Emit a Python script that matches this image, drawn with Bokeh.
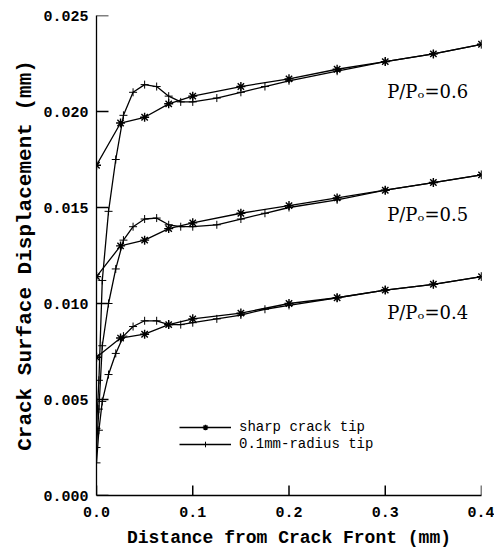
from bokeh.plotting import figure
from bokeh.models import (Range1d, FixedTicker, PrintfTickFormatter, Legend,
                          LegendItem, Label)
from bokeh.embed import file_html
from bokeh.resources import INLINE

# ---- data ----
x_sharp = [0.0, 0.025, 0.05, 0.075, 0.1, 0.15, 0.2, 0.25, 0.3, 0.35, 0.4]
sharp_06 = [0.0172, 0.0194, 0.0197, 0.0204, 0.0208, 0.0213, 0.0217, 0.0222, 0.0226, 0.0230, 0.0235]
sharp_05 = [0.0114, 0.0130, 0.0133, 0.0139, 0.0142, 0.0147, 0.0151, 0.0155, 0.0159, 0.0163, 0.0167]
sharp_04 = [0.0072, 0.0082, 0.0084, 0.0089, 0.0092, 0.0095, 0.0100, 0.0103, 0.0107, 0.0110, 0.0114]

x_radius = [0.0, 0.0025, 0.006, 0.0125, 0.02, 0.028, 0.038, 0.05, 0.0625, 0.075,
            0.0875, 0.1, 0.125, 0.15, 0.175, 0.2, 0.25, 0.3, 0.35, 0.4]
radius_06 = [0.0035, 0.0060, 0.0112, 0.0148, 0.0175, 0.0198, 0.0210, 0.0214, 0.0213, 0.0208,
             0.0205, 0.0205, 0.0207, 0.0210, 0.0213, 0.0216, 0.0221, 0.0226, 0.0230, 0.0235]
radius_05 = [0.0025, 0.0045, 0.0078, 0.0100, 0.0118, 0.0133, 0.0140, 0.0144, 0.01445, 0.0141,
             0.0140, 0.0140, 0.0141, 0.0144, 0.0147, 0.0150, 0.0154, 0.0159, 0.0163, 0.0167]
radius_04 = [0.0017, 0.0034, 0.0049, 0.0063, 0.0074, 0.0083, 0.0088, 0.0091, 0.0091, 0.0089,
             0.0089, 0.0090, 0.0092, 0.0094, 0.0097, 0.0099, 0.0103, 0.0107, 0.0110, 0.0114]

x_ticks = [0.0, 0.1, 0.2, 0.3, 0.4]
y_ticks = [0.0, 0.005, 0.010, 0.015, 0.020, 0.025]

load_labels = ["P/P\u2092=0.6", "P/P\u2092=0.5", "P/P\u2092=0.4"]
label_x = [0.302, 0.302, 0.302]
label_y = [0.02105, 0.01466, 0.00951]

legend_names = ["sharp crack tip", "0.1mm-radius tip"]

# ---- layout ----
W, H = 494, 551
BL, BR, BT, BB = 96, 13, 15, 56
FW, FH = W - BL - BR, H - BT - BB   # frame size in px

p = figure(width=W, height=H, output_backend="svg", toolbar_location=None,
           x_range=Range1d(0, 0.4), y_range=Range1d(0, 0.025),
           min_border_left=BL, min_border_right=BR, min_border_top=BT,
           min_border_bottom=BB)
p.outline_line_color = None
p.xgrid.visible = False
p.ygrid.visible = False
p.background_fill_color = "white"
p.border_fill_color = "white"

mono = "Liberation Mono"
for ax in (p.xaxis[0], p.yaxis[0]):
    ax.axis_line_color = "black"
    ax.axis_line_width = 1.3
    ax.major_tick_line_color = None
    ax.major_tick_out = 0
    ax.major_tick_in = 0
    ax.minor_tick_line_color = None
    ax.major_label_text_font = mono
    ax.major_label_text_font_style = "bold"
    ax.major_label_text_font_size = "15px"
    ax.major_label_text_color = "black"
    ax.axis_label_text_font = mono
    ax.axis_label_text_font_style = "bold"
    ax.axis_label_text_color = "black"

p.xaxis[0].ticker = FixedTicker(ticks=x_ticks)
p.xaxis[0].formatter = PrintfTickFormatter(format="%.1f")
p.xaxis[0].major_label_standoff = 11
p.xaxis[0].axis_label = "Distance from Crack Front (mm)"
p.xaxis[0].axis_label_text_font_size = "18px"
p.xaxis[0].axis_label_standoff = 8

p.yaxis[0].ticker = FixedTicker(ticks=y_ticks)
p.yaxis[0].formatter = PrintfTickFormatter(format="%.3f")
p.yaxis[0].major_label_standoff = 8
p.yaxis[0].axis_label = "Crack Surface Displacement (mm)"
p.yaxis[0].axis_label_text_font_size = "21px"
p.yaxis[0].axis_label_standoff = 3

# inward tick marks at the tick values (12 px on y, 10 px on x)
xr0, xr1 = p.x_range.start, p.x_range.end
yr0, yr1 = p.y_range.start, p.y_range.end
ytick_len = 12 * (xr1 - xr0) / FW
xtick_len = 10 * (yr1 - yr0) / FH
p.segment(x0=[xr0] * len(y_ticks), y0=y_ticks,
          x1=[xr0 + ytick_len] * len(y_ticks), y1=y_ticks,
          line_color="black", line_width=1.5)
p.segment(x0=x_ticks, y0=[yr0] * len(x_ticks),
          x1=x_ticks, y1=[yr0 + xtick_len] * len(x_ticks),
          line_color="black", line_width=1.5)

# ---- series ----
sharp_items = []
radius_items = []
for ys in (sharp_06, sharp_05, sharp_04):
    l = p.line(x_sharp, ys, line_color="black", line_width=1.3)
    s = p.scatter(x_sharp, ys, marker="asterisk", size=9, line_color="black", line_width=1.4)
    sharp_items.append((l, s))
for ys in (radius_06, radius_05, radius_04):
    l = p.line(x_radius, ys, line_color="black", line_width=1.3)
    s = p.scatter(x_radius, ys, marker="cross", size=8, line_color="black", line_width=1.0)
    radius_items.append((l, s))

legend = Legend(items=[
    LegendItem(label=legend_names[0], renderers=list(sharp_items[0])),
    LegendItem(label=legend_names[1], renderers=list(radius_items[0])),
], location=(83, 43))
legend.border_line_color = None
legend.background_fill_alpha = 0
legend.padding = 0
legend.margin = 0
legend.spacing = 1
legend.glyph_width = 52
legend.glyph_height = 14
legend.label_height = 14
legend.label_standoff = 8
legend.label_text_font = mono
legend.label_text_font_size = "14px"
legend.label_text_color = "black"
p.add_layout(legend, "center")

for t, lx, ly in zip(load_labels, label_x, label_y):
    p.add_layout(Label(x=lx, y=ly, text=t, text_font="DejaVu Serif",
                       text_font_size="18px", text_color="black",
                       text_baseline="middle", text_align="left"))

open("out.html", "w").write(file_html(p, INLINE))
